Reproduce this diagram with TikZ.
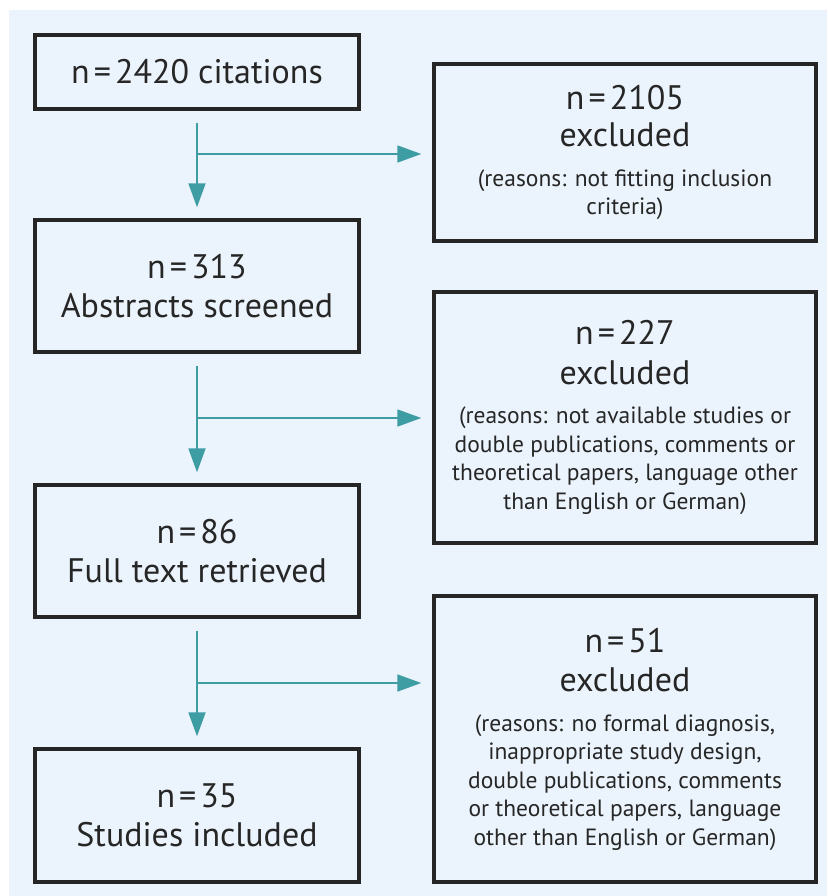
\documentclass[tikz,border=0pt]{standalone}
\usepackage{fontspec}
\setmainfont{PT Sans}
\usetikzlibrary{arrows.meta,calc}
\definecolor{bgblue}{RGB}{235,244,252}
\definecolor{teal1}{RGB}{62,156,163}
\definecolor{boxc}{RGB}{37,37,37}
\definecolor{txt}{RGB}{38,38,38}
\newcommand{\bigf}{\fontsize{34}{39.5}\selectfont}
\newcommand{\smallf}{\fontsize{23.5}{39.5}\selectfont}
\newcommand{\eqs}{\hspace{0.12em}=\hspace{0.12em}}
\begin{document}
\begin{tikzpicture}[x=1pt,y=-1pt,
  box/.style={draw=boxc, line width=3.4pt, inner sep=0pt, text=txt, align=center, font=\bigf},
  arr/.style={draw=teal1, line width=1.8pt, -{Triangle[length=24pt,width=17pt]}}]
\useasboundingbox (0,0) rectangle (827,896);
\fill[white] (0,0) rectangle (827,896);
\fill[bgblue] (9,10) rectangle (827,896);
% left column
\node[box, minimum width=324pt, minimum height=74pt] (b1) at (197,72) {n\eqs 2420 citations};
\node[box, minimum width=324pt, minimum height=132pt] (b2) at (197,286) {n\eqs 313\\ Abstracts screened};
\node[box, minimum width=324pt, minimum height=132pt] (b3) at (197,551) {n\eqs 86\\ Full text retrieved};
\node[box, minimum width=324pt, minimum height=133pt] (b4) at (197,815.5) {n\eqs 35\\ Studies included};
% right column
\node[box, minimum width=382pt, minimum height=177pt] (r1) at (625,152.5) {n\eqs 2105\\[-2pt] excluded\\ \smallf (reasons: not fitting inclusion\\[-11pt] \smallf criteria)};
\node[box, minimum width=382pt, minimum height=251pt] (r2) at (625,417.5) {n\eqs 227\\ excluded\\ \smallf (reasons: not available studies or\\[-11pt] \smallf double publications, comments or\\[-11pt] \smallf theoretical papers, language other\\[-11pt] \smallf than English or German)};
\node[box, minimum width=382pt, minimum height=286pt] (r3) at (625,739) {n\eqs 51\\ excluded\\ \smallf (reasons: no formal diagnosis,\\[-11pt] \smallf inappropriate study design,\\[-11pt] \smallf double publications, comments\\[-11pt] \smallf or theoretical papers, language\\[-11pt] \smallf other than English or German)};
% connectors
\coordinate (s1) at ($(b1.south)+(0,12)$);
\coordinate (s2) at ($(b2.south)+(0,12)$);
\coordinate (s3) at ($(b3.south)+(0,12)$);
\coordinate (j1) at (197,154);
\coordinate (j2) at (197,418);
\coordinate (j3) at (197,683);
\draw[arr, shorten >=11pt] (s1) -- (b2.north);
\draw[arr, shorten >=11pt] (s2) -- (b3.north);
\draw[arr, shorten >=11pt] (s3) -- (b4.north);
\draw[arr, shorten >=11pt] (j1) -- (j1 -| r1.west);
\draw[arr, shorten >=11pt] (j2) -- (j2 -| r2.west);
\draw[arr, shorten >=11pt] (j3) -- (j3 -| r3.west);
\end{tikzpicture}
\end{document}
